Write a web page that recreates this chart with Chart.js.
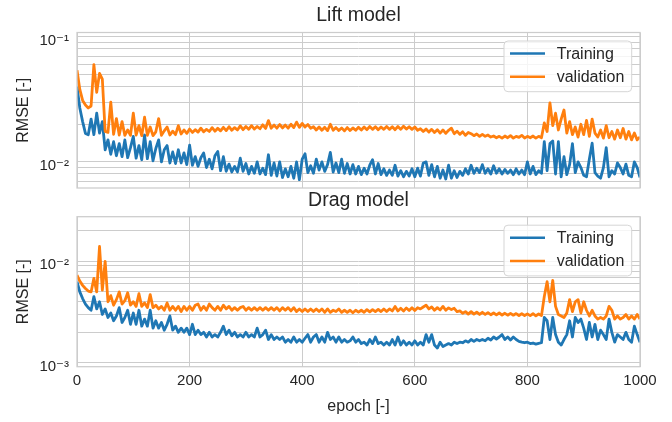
<!DOCTYPE html>
<html><head><meta charset="utf-8">
<script src="https://cdn.jsdelivr.net/npm/chart.js@4.4.1/dist/chart.umd.min.js"></script>
<style>
html,body{margin:0;padding:0;background:#fff;width:672px;height:422px;overflow:hidden;}
#top{position:absolute;left:0;top:0;width:672px;height:205px;}
#bot{position:absolute;left:0;top:189px;width:672px;height:233px;}
</style></head><body>
<div id="top"><canvas id="c1"></canvas></div>
<div id="bot"><canvas id="c2"></canvas></div>
<script>
const epochs = [
0,5,10,15,20,25,30,35,40,45,
50,55,60,65,70,75,80,85,90,95,
100,105,110,115,120,125,130,135,140,145,
150,155,160,165,170,175,180,185,190,195,
200,205,210,215,220,225,230,235,240,245,
250,255,260,265,270,275,280,285,290,295,
300,305,310,315,320,325,330,335,340,345,
350,355,360,365,370,375,380,385,390,395,
400,405,410,415,420,425,430,435,440,445,
450,455,460,465,470,475,480,485,490,495,
500,505,510,515,520,525,530,535,540,545,
550,555,560,565,570,575,580,585,590,595,
600,605,610,615,620,625,630,635,640,645,
650,655,660,665,670,675,680,685,690,695,
700,705,710,715,720,725,730,735,740,745,
750,755,760,765,770,775,780,785,790,795,
800,805,810,815,820,825,830,835,840,845,
850,855,860,865,870,875,880,885,890,895,
900,905,910,915,920,925,930,935,940,945,
950,955,960,965,970,975,980,985,990,995,
1000];

const liftTraining = [
0.040,0.027,0.021,0.0169,0.0165,0.022,0.0165,0.0245,0.017,0.021,
0.0125,0.0150,0.0115,0.0145,0.0112,0.0140,0.0110,0.0150,0.0108,0.0130,
0.0160,0.0107,0.0135,0.0104,0.0164,0.0106,0.0145,0.0102,0.0128,0.0150,
0.0100,0.0125,0.0135,0.0098,0.0120,0.0097,0.0125,0.0098,0.0118,0.0095,
0.0136,0.0094,0.0110,0.0092,0.0108,0.0118,0.0090,0.0105,0.0088,0.0112,
0.0121,0.0085,0.0110,0.0084,0.0096,0.0083,0.0092,0.0083,0.0107,0.0084,
0.0097,0.0080,0.0092,0.0081,0.0100,0.0080,0.0089,0.0079,0.0114,0.0078,
0.0098,0.0077,0.0100,0.0075,0.0088,0.0076,0.0092,0.0074,0.0100,0.0072,
0.0105,0.0116,0.0082,0.0093,0.0081,0.0105,0.0086,0.0100,0.0084,0.0095,
0.0119,0.0083,0.0098,0.0082,0.0105,0.0081,0.0097,0.0080,0.0095,0.0080,
0.0092,0.0079,0.0089,0.0080,0.0094,0.0104,0.0080,0.0097,0.0079,0.0088,
0.0078,0.0086,0.0078,0.0094,0.0077,0.0085,0.0076,0.0084,0.0077,0.0088,
0.0076,0.0089,0.0077,0.0098,0.0100,0.0078,0.0095,0.0076,0.0092,0.0074,
0.0086,0.0073,0.0094,0.0074,0.0085,0.0075,0.0084,0.0078,0.0088,0.0080,
0.0094,0.0081,0.0089,0.0082,0.0095,0.0081,0.0088,0.0080,0.0093,0.0081,
0.0088,0.0080,0.0087,0.0081,0.0086,0.0079,0.0088,0.0080,0.0086,0.0079,
0.0100,0.0080,0.0092,0.0079,0.0085,0.0081,0.0145,0.0085,0.0140,0.0147,
0.0080,0.0145,0.0076,0.0110,0.0079,0.0095,0.0140,0.0082,0.0100,0.0090,
0.0078,0.0076,0.0105,0.0141,0.0082,0.0077,0.0074,0.0090,0.0130,0.0076,
0.0085,0.0080,0.0098,0.0090,0.0080,0.0096,0.0078,0.0076,0.0100,0.0090,
0.0075];

const liftValidation = [
0.054,0.038,0.031,0.0285,0.027,0.028,0.060,0.036,0.051,0.046,
0.0175,0.0172,0.030,0.0166,0.0222,0.0164,0.021,0.0163,0.0180,0.0163,
0.0245,0.0164,0.0195,0.0162,0.0228,0.0163,0.0190,0.0162,0.0174,0.0222,
0.0163,0.0177,0.0190,0.0164,0.0176,0.0165,0.0195,0.0167,0.0180,0.0169,
0.0183,0.0172,0.0181,0.0173,0.0186,0.0174,0.0182,0.0175,0.0188,0.0176,
0.0186,0.0177,0.0189,0.0178,0.0191,0.0179,0.0188,0.0180,0.0194,0.0181,
0.0192,0.0182,0.0195,0.0183,0.0192,0.0184,0.0198,0.0185,0.0214,0.0186,
0.0197,0.0186,0.0199,0.0187,0.0197,0.0186,0.0200,0.0188,0.0208,0.0189,
0.0203,0.0190,0.0199,0.0186,0.0191,0.0180,0.0190,0.0179,0.0189,0.0178,
0.0200,0.0179,0.0188,0.0178,0.0187,0.0177,0.0188,0.0178,0.0187,0.0179,
0.0189,0.0180,0.0190,0.0181,0.0192,0.0182,0.0191,0.0181,0.0190,0.0182,
0.0192,0.0182,0.0191,0.0181,0.0192,0.0182,0.0193,0.0183,0.0191,0.0182,
0.0190,0.0179,0.0184,0.0175,0.0183,0.0173,0.0182,0.0172,0.0181,0.0170,
0.0180,0.0169,0.0179,0.0186,0.0168,0.0176,0.0166,0.0174,0.0163,0.0172,
0.0168,0.0162,0.0167,0.0160,0.0166,0.0160,0.0164,0.0158,0.0161,0.0156,
0.0160,0.0155,0.0161,0.0156,0.0162,0.0155,0.0160,0.0157,0.0163,0.0155,
0.0160,0.0156,0.0161,0.0155,0.0160,0.0156,0.0205,0.0175,0.0297,0.0195,
0.0245,0.0180,0.0220,0.0260,0.0170,0.0210,0.0165,0.0190,0.0158,0.0200,
0.0165,0.0215,0.0160,0.0220,0.0170,0.0158,0.0180,0.0155,0.0195,0.0156,
0.0175,0.0152,0.0180,0.0156,0.0185,0.0152,0.0175,0.0150,0.0170,0.0150,
0.0158];

const dragTraining = [
0.0063,0.0050,0.0043,0.0038,0.0035,0.0033,0.0045,0.0034,0.0040,0.0030,
0.0034,0.0028,0.0031,0.0026,0.0029,0.0035,0.0025,0.0028,0.0033,0.0024,
0.0031,0.0024,0.0033,0.0023,0.0027,0.0023,0.0033,0.0022,0.0026,0.0022,
0.0025,0.0021,0.0024,0.0029,0.0021,0.0023,0.0020,0.0022,0.0020,0.0022,
0.0019,0.0024,0.0019,0.0021,0.0019,0.0020,0.0018,0.0020,0.0018,0.0019,
0.0018,0.0020,0.0023,0.0019,0.0021,0.00185,0.0020,0.0018,0.0019,0.0018,
0.0020,0.0018,0.0019,0.0018,0.0022,0.0018,0.0019,0.0021,0.0017,0.0019,
0.0017,0.0018,0.0017,0.0018,0.0016,0.0017,0.0016,0.0018,0.0016,0.0017,
0.0016,0.00175,0.0019,0.0016,0.0018,0.0019,0.0016,0.0018,0.0016,0.0020,
0.0017,0.0018,0.0016,0.0018,0.0016,0.0017,0.0016,0.00165,0.0018,0.0016,
0.0017,0.00155,0.0016,0.0015,0.0017,0.00155,0.0018,0.00155,0.0016,0.0015,
0.0016,0.0015,0.0017,0.0015,0.0018,0.0015,0.00165,0.0015,0.0016,0.0015,
0.00165,0.0015,0.0016,0.0015,0.0019,0.0016,0.0019,0.0015,0.0014,0.0016,
0.00145,0.0015,0.00155,0.0015,0.0016,0.00155,0.0016,0.00158,0.00165,0.0016,
0.0017,0.00163,0.0017,0.00165,0.0017,0.00165,0.00175,0.00168,0.0018,0.00172,
0.0018,0.0019,0.0017,0.0018,0.00168,0.0018,0.0017,0.00163,0.0016,0.00158,
0.0016,0.00155,0.00157,0.00153,0.00156,0.00158,0.0028,0.0026,0.0017,0.0028,
0.0019,0.0016,0.0015,0.0017,0.0019,0.0026,0.0018,0.0028,0.0025,0.0027,
0.0022,0.0017,0.0025,0.0018,0.0024,0.0017,0.0021,0.0019,0.0017,0.0027,
0.0020,0.0016,0.0019,0.0018,0.0017,0.0020,0.0017,0.0016,0.0023,0.0019,
0.0016];

const dragValidation = [
0.0073,0.0064,0.0058,0.0054,0.0051,0.0050,0.0068,0.0050,0.0140,0.0052,
0.0100,0.0040,0.0046,0.0037,0.0042,0.0050,0.0038,0.0041,0.0049,0.0037,
0.0040,0.0036,0.0048,0.0036,0.0039,0.0035,0.0047,0.0035,0.0037,0.0034,
0.0036,0.0033,0.0039,0.0033,0.0036,0.0033,0.0036,0.0032,0.0036,0.0033,
0.0036,0.0033,0.0037,0.0038,0.0033,0.0036,0.0033,0.0038,0.0035,0.0033,
0.0036,0.0033,0.0037,0.0034,0.0036,0.0033,0.0035,0.0033,0.0035,0.0036,
0.0033,0.0035,0.0033,0.0035,0.0033,0.0035,0.0033,0.0035,0.0033,0.0035,
0.0033,0.0035,0.00325,0.0035,0.0033,0.0035,0.00325,0.0035,0.0032,0.0034,
0.0032,0.0034,0.0032,0.0034,0.0032,0.0034,0.0032,0.0034,0.00315,0.0034,
0.00315,0.0033,0.0032,0.0034,0.00315,0.0033,0.00315,0.0033,0.00312,0.0033,
0.00316,0.0033,0.00315,0.00335,0.00318,0.00335,0.0032,0.00337,0.0032,0.0034,
0.0032,0.0034,0.00325,0.0036,0.00325,0.00345,0.00325,0.00348,0.00328,0.0035,
0.00328,0.0035,0.0034,0.00355,0.0037,0.0034,0.00355,0.0033,0.0035,0.00332,
0.0036,0.0033,0.00348,0.00335,0.00345,0.0032,0.00325,0.00308,0.0032,0.00302,
0.0032,0.00302,0.00316,0.0030,0.00315,0.0030,0.00313,0.00298,0.0031,0.00297,
0.0031,0.00296,0.00308,0.00295,0.00307,0.00295,0.00306,0.00293,0.00305,0.00293,
0.00304,0.00292,0.00305,0.00291,0.00303,0.00292,0.0045,0.0063,0.0040,0.0065,
0.0036,0.0030,0.0029,0.0028,0.0031,0.0042,0.0032,0.0040,0.0042,0.0031,
0.0040,0.0033,0.0029,0.0033,0.0029,0.0027,0.0028,0.0027,0.0029,0.0036,
0.0033,0.0027,0.0029,0.0027,0.0028,0.0030,0.0027,0.0029,0.0027,0.0030,
0.0027];

const liftTicks = [0.007,0.008,0.009,0.01,0.02,0.03,0.04,0.05,0.06,0.07,0.08,0.09,0.1];
const dragTicks = [0.001,0.002,0.003,0.004,0.005,0.006,0.007,0.008,0.009,0.01,0.02];
const majorTicks = [0.1,0.01,0.001];
const majorLabels = ['10\u207B\u00B9','10\u207B\u00B2','10\u207B\u00B3'];
const xTickStep = 200;

const FONT = "'Liberation Sans', Arimo, Arial, 'DejaVu Sans', sans-serif";
const TXT = '#262626';
const GRID = '#cccccc';

const framePlugin = {
  id: 'frame',
  afterDatasetsDraw(chart) {
    const {ctx, chartArea: a} = chart;
    ctx.save();
    ctx.strokeStyle = GRID;
    ctx.lineWidth = 1.25;
    ctx.strokeRect(a.left, a.top, a.right - a.left, a.bottom - a.top);
    ctx.restore();
  }
};

const boxLegend = {
  id: 'boxLegend',
  afterDatasetsDraw(chart) {
    const {ctx, chartArea: a} = chart;
    const w = 127.7, h = 50.7, r = 4;
    const x = a.right - 8.3 - w, y = a.top + 8.5;
    ctx.save();
    ctx.beginPath();
    ctx.moveTo(x + r, y);
    ctx.lineTo(x + w - r, y); ctx.arcTo(x + w, y, x + w, y + r, r);
    ctx.lineTo(x + w, y + h - r); ctx.arcTo(x + w, y + h, x + w - r, y + h, r);
    ctx.lineTo(x + r, y + h); ctx.arcTo(x, y + h, x, y + h - r, r);
    ctx.lineTo(x, y + r); ctx.arcTo(x, y, x + r, y, r);
    ctx.closePath();
    ctx.fillStyle = 'rgba(255,255,255,0.8)';
    ctx.fill();
    ctx.strokeStyle = '#d5d5d5';
    ctx.lineWidth = 1;
    ctx.stroke();
    chart.data.datasets.forEach((ds, i) => {
      const ly = y + 12.5 + i * 23.2;
      ctx.beginPath();
      ctx.moveTo(x + 6, ly); ctx.lineTo(x + 41, ly);
      ctx.strokeStyle = ds.borderColor; ctx.lineWidth = 2.5; ctx.lineCap = 'butt';
      ctx.stroke();
      ctx.fillStyle = TXT;
      ctx.font = '16px ' + FONT;
      ctx.textBaseline = 'middle';
      ctx.textAlign = 'left';
      ctx.fillText(ds.label, x + 52.7, ly + 1);
    });
    ctx.restore();
  }
};

function tickLabel(v) {
  const k = majorTicks.findIndex(m => Math.abs(m - v) < m * 1e-6);
  return k >= 0 ? majorLabels[k] : '';
}

function makeChart(id, title, train, valid, yMin, yMax, yTicks, showX, titlePad) {
  return new Chart(document.getElementById(id), {
    type: 'line',
    data: {
      labels: epochs,
      datasets: [
        {label: 'Training', data: train, borderColor: '#1f77b4', backgroundColor: '#1f77b4', order: 1},
        {label: 'validation', data: valid, borderColor: '#ff7f0e', backgroundColor: '#ff7f0e', order: 0}
      ]
    },
    options: {
      responsive: true, maintainAspectRatio: false, animation: false, devicePixelRatio: 1,
      layout: {padding: {left: 0, right: 32, top: 0, bottom: 0}},
      elements: {
        point: {radius: 0, hoverRadius: 0},
        line: {borderWidth: 2.8, tension: 0, borderJoinStyle: 'round', fill: false}
      },
      plugins: {
        legend: {display: false},
        tooltip: {enabled: false},
        title: {display: true, text: title, fullSize: false, color: TXT,
                font: {family: FONT, size: 19.5, weight: 'normal'}, padding: titlePad}
      },
      scales: {
        x: {
          type: 'linear', min: 0, max: 1000,
          grid: {color: GRID, lineWidth: 1, drawTicks: false},
          border: {display: false},
          ticks: {display: showX, stepSize: xTickStep, padding: 5, color: TXT, maxRotation: 0,
                  font: {family: FONT, size: 15}, callback: v => String(v)},
          title: {display: showX, text: 'epoch [-]', color: TXT, font: {family: FONT, size: 16},
                  padding: {top: 1.9, bottom: 6.2}}
        },
        y: {
          type: 'logarithmic', min: yMin, max: yMax,
          afterBuildTicks: s => { s.ticks = yTicks.map(v => ({value: v})); },
          afterFit: s => { s.width = 77; },
          grid: {color: GRID, lineWidth: 1, drawTicks: false},
          border: {display: false},
          ticks: {autoSkip: false, padding: 8, labelOffset: 4, color: TXT,
                  font: {family: FONT, size: 15}, callback: tickLabel},
          title: {display: true, text: 'RMSE [-]', color: TXT, font: {family: FONT, size: 16},
                  padding: {top: 13.6, bottom: 0}}
        }
      }
    },
    plugins: [framePlugin, boxLegend]
  });
}

makeChart('c1', 'Lift model', liftTraining, liftValidation, 0.00618, 0.1084, liftTicks, false, {top: 4.15, bottom: 4.95});
makeChart('c2', 'Drag model', dragTraining, dragValidation, 0.000918, 0.0275, dragTicks, true, {top: 0, bottom: 4.3});
</script>
</body></html>
